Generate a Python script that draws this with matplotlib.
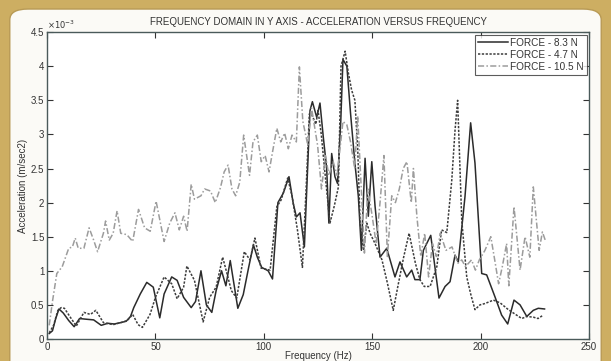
import matplotlib
matplotlib.use("Agg")
import matplotlib.pyplot as plt
from matplotlib.patches import FancyBboxPatch
from matplotlib.ticker import FuncFormatter

plt.rcParams['font.family'] = ['Liberation Sans Narrow', 'Liberation Sans', 'DejaVu Sans']

# FORCE - 8.3 N (solid)
freq_83 = [1, 2.5, 4, 5.5, 7.5, 10, 12.5, 15, 18, 21.5, 25, 28, 31, 34, 36.5, 38.5, 40, 43, 46, 49,
           52, 54, 57.5, 60, 63, 66.5, 68.5, 71, 73.5, 76, 78, 80.5, 82.5, 84.5, 88, 90.5, 93, 95.2, 97, 99,
           102, 104, 106.5, 109, 111.6, 113.5, 115, 116.7, 118.7, 121.3, 122.4, 124.4, 125.9, 127.4, 129, 130,
           131.3, 132.8, 134, 135.5, 136.5, 138.3, 140, 142, 143.6, 145, 146.7, 148.2, 149.8, 151.3, 153.6,
           156.7, 160.5, 162.8, 165.9, 168.2, 169.7, 172, 173.6, 177, 180.8, 183.6, 185.9, 188.2, 189.7, 192.8,
           195.4, 197.4, 200.5, 202.8, 206.6, 209.7, 212.5, 215.4, 218.2, 221.3, 224.3, 226.6, 229.5]
acc_83 = [0.08, 0.12, 0.3, 0.44, 0.38, 0.27, 0.18, 0.3, 0.29, 0.28, 0.2, 0.23, 0.22, 0.24, 0.26, 0.33, 0.46, 0.66, 0.83, 0.76,
          0.31, 0.66, 0.91, 0.86, 0.61, 0.46, 0.55, 1.0, 0.5, 0.39, 0.71, 1.0, 0.78, 1.15, 0.45, 0.65, 1.05, 1.38, 1.2, 1.05,
          1.0, 0.88, 2.0, 2.14, 2.38, 2.0, 1.79, 1.85, 1.35, 3.35, 3.48, 3.25, 3.46, 2.97, 2.5, 1.7,
          2.72, 2.38, 2.28, 3.2, 4.1, 4.0, 3.31, 2.58, 2.09, 1.3, 2.65, 1.8, 2.6, 1.95, 1.2,
          1.33, 0.91, 1.13, 0.91, 1.01, 0.87, 0.87, 1.3, 1.52, 0.6, 0.77, 0.84, 1.23, 1.13, 2.09,
          3.17, 2.58, 0.96, 0.94, 0.62, 0.35, 0.22, 0.57, 0.5, 0.33, 0.42, 0.45, 0.44]

# FORCE - 4.7 N (dotted)
freq_47 = [1, 3, 5, 6.5, 8, 10.5, 13.5, 17, 20, 22.5, 26, 30.5, 34, 37, 39.5, 42, 44, 47.5, 50, 54,
           57.5, 60, 63, 64.5, 68, 72, 75, 78, 81, 83, 85, 87.5, 91, 93.6, 95.9, 98.7, 102.9, 106, 108, 111,
           113, 115.5, 117.8, 119.5, 121, 122, 124, 125, 126.5, 128, 130.5, 132.5, 134.4, 135.6, 137.5, 139,
           140.5, 142, 143.3, 144.4, 146, 147.5, 149, 151.3, 154.5, 157, 159.7, 162, 164.5, 167, 170, 172,
           174, 176.7, 179.8, 182, 184.4, 186.7, 188.2, 189.4, 191.3, 193.6, 195.5, 197.4, 199.7, 202, 205.9,
           209, 212.8, 216.6, 219, 221.3, 224.3, 226.5, 228.9]
acc_47 = [0.09, 0.2, 0.42, 0.46, 0.45, 0.33, 0.19, 0.39, 0.36, 0.42, 0.24, 0.21, 0.24, 0.27, 0.36, 0.21, 0.17, 0.36, 0.61, 0.91,
          0.81, 0.59, 0.76, 1.07, 0.86, 0.25, 0.61, 0.76, 1.2, 0.96, 0.71, 0.6, 1.28, 1.16, 1.48, 1.04, 1.01, 1.94, 2.04, 2.36,
          2.1, 1.6, 1.05, 2.2, 3.3, 3.3, 3.15, 3.35, 3.0, 2.5, 1.7, 1.95, 2.23, 4.0, 4.22, 3.9,
          3.65, 3.5, 2.8, 1.7, 1.3, 1.7, 1.55, 1.4, 1.16, 0.82, 0.42, 0.8, 1.2, 1.55, 1.1, 0.87,
          0.77, 0.77, 1.06, 1.6, 1.56, 2.33, 3.06, 3.5, 1.74, 0.91, 0.65, 0.43, 0.5, 0.52, 0.57,
          0.53, 0.43, 0.35, 0.3, 0.33, 0.32, 0.3, 0.35]

# FORCE - 10.5 N (dash-dot)
freq_105 = [1, 2.5, 4.5, 7, 10, 11.7, 13, 14.4, 17, 19.4, 21.5, 23.3, 26, 27, 28.7, 30.5, 32.3, 34, 36.8, 39.5,
            42.2, 45, 47.6, 50.3, 54, 56.6, 59, 61, 63, 64.6, 66.5, 68, 71, 72.7, 75.4, 77.6, 80, 81.7, 83.5, 85.3,
            87, 88.9, 90.7, 93.4, 95, 97, 98.8, 100.6, 102.4, 104, 106, 107.8, 109.6, 111.3, 113, 115, 116.4, 118,
            120.3, 122, 124.8, 126.6, 128.4, 130, 132, 133.8, 136.5, 138.3, 140, 141.9, 143.3, 146.4, 148, 150,
            151.8, 153.6, 155.4, 157, 159, 160.7, 162.5, 164.3, 166, 168, 169, 170.6, 172.4, 174.2, 176, 177.8,
            179.6, 181.4, 184, 186.8, 189.5, 191.3, 193, 195.8, 197.6, 199.4, 202, 204.7, 206.5, 208.3, 210, 212,
            213, 215.4, 218.2, 220.5, 222.7, 224.3, 227, 228.5, 229.8]
acc_105 = [0.2, 0.55, 0.96, 1.06, 1.33, 1.35, 1.48, 1.33, 1.33, 1.63, 1.45, 1.28, 1.55, 1.73, 1.45, 1.55, 1.88, 1.55, 1.53, 1.43,
           1.9, 1.63, 1.58, 2.02, 1.43, 1.7, 1.85, 1.6, 1.8, 1.58, 2.27, 2.05, 2.1, 2.2, 2.17, 2.0, 2.22, 2.45, 2.55, 2.2,
           2.1, 2.3, 2.99, 2.4, 2.89, 2.99, 2.6, 2.69, 2.45, 2.74, 3.09, 2.89, 3.02, 2.79, 2.99, 2.89, 3.99, 3.19,
           2.84, 3.39, 2.84, 2.2, 2.69, 2.4, 2.6, 2.4, 3.19, 3.14, 2.89, 2.5, 3.27, 1.26, 2.2, 1.8,
           1.4, 2.0, 2.69, 1.21, 2.1, 2.0, 2.2, 2.5, 2.6, 2.0, 2.5, 1.8, 1.21, 1.55, 0.91, 1.4,
           1.21, 1.55, 1.3, 1.35, 1.11, 1.16, 1.06, 1.16, 1.01, 1.16, 1.3, 1.5, 1.16, 0.81, 1.06, 1.4,
           0.78, 1.94, 1.01, 1.5, 1.2, 2.23, 1.3, 1.57, 1.45]

labels = ['FORCE - 8.3 N', 'FORCE - 4.7 N', 'FORCE - 10.5 N']

fig = plt.figure(figsize=(6.11, 3.61), dpi=100)
fig.patch.set_facecolor('#cdae62')
panel = FancyBboxPatch((0.016, -0.05), 0.968, 1.025, boxstyle="round,pad=0,rounding_size=0.03",
                       transform=fig.transFigure, facecolor='#fbfaf6', edgecolor='#b89a55', lw=1.0,
                       zorder=-10)
fig.patches.append(panel)

ax = fig.add_axes([0.077, 0.061, 0.887, 0.850])
ax.set_facecolor('white')

ax.plot(freq_83, acc_83, '-', color='#2b2b2b', lw=1.1, label=labels[0])
ax.plot(freq_47, acc_47, color='#3c3c3c', lw=1.1, linestyle=(0, (1.5, 1)), label=labels[1])
ax.plot(freq_105, acc_105, color='#9c9c9c', lw=1.1, linestyle=(0, (4, 1.5, 1, 1.5)), label=labels[2])

ax.set_xlim(0, 250)
ax.set_ylim(0, 4.5)
ax.set_xticks([0, 50, 100, 150, 200, 250])
ax.set_yticks([0, 0.5, 1, 1.5, 2, 2.5, 3, 3.5, 4, 4.5])
ax.yaxis.set_major_formatter(FuncFormatter(lambda v, p: '%g' % v))
ax.tick_params(direction='in', length=4, width=0.8, top=True, right=True,
               labelsize=7, colors='#333333', pad=2)
for s in ax.spines.values():
    s.set_color('#4a5a5a')
    s.set_linewidth(1.0)

ax.set_title('FREQUENCY DOMAIN IN Y AXIS - ACCELERATION VERSUS FREQUENCY', fontsize=7, color='#333333', pad=5)
ax.set_xlabel('Frequency (Hz)', fontsize=7, color='#333333')
ax.xaxis.set_label_coords(0.5, -0.038)
ax.set_ylabel('Acceleration (m/sec2)', fontsize=7, color='#333333', labelpad=2)
ax.text(0.0, 1.005, r'$\times10^{-3}$', transform=ax.transAxes, fontsize=6, color='#333333',
        ha='left', va='bottom')

leg = ax.legend(loc='upper right', fontsize=7.2, frameon=True, fancybox=False, handlelength=3.0,
                handletextpad=0.2, borderpad=0.3, labelspacing=0.2, borderaxespad=0.25)
leg.get_frame().set_edgecolor('#333333')
leg.get_frame().set_linewidth(0.8)
for t in leg.get_texts():
    t.set_color('#333333')

fig.savefig('out.png', dpi=100, facecolor=fig.get_facecolor())
